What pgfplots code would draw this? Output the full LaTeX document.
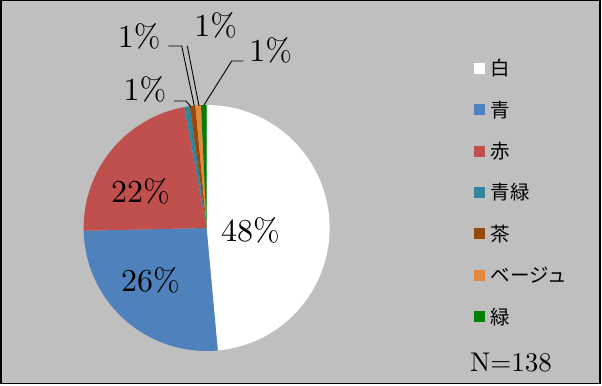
\documentclass[border=0pt]{standalone}
\usepackage{pgfplots}
\pgfplotsset{compat=1.18}
\usepackage{pgfplotstable}
\usepackage{fontspec}
\newfontfamily\jpfont{Noto Sans CJK JP}
\newfontfamily\labfont{lmroman10-regular}[Extension=.otf]
\definecolor{bg}{HTML}{BFBFBF}
\definecolor{cWhite}{HTML}{FFFFFF}
\definecolor{cBlue}{HTML}{4F81BD}
\definecolor{cRed}{HTML}{C0504D}
\definecolor{cTeal}{HTML}{31859C}
\definecolor{cBrown}{HTML}{984807}
\definecolor{cBeige}{HTML}{E3883D}
\definecolor{cGreen}{HTML}{008000}
% counts (N=138), colour of each slice
\pgfplotstableread{
name count col
白 67 cWhite
青 36 cBlue
赤 31 cRed
青緑 1 cTeal
茶 1 cBrown
ベージュ 1 cBeige
緑 1 cGreen
}\piedata
\begin{document}
\begin{tikzpicture}
\begin{axis}[at={(0,0)}, anchor=south west, scale only axis,
  width=602bp, height=386bp, xmin=0, xmax=602, ymin=0, ymax=386,
  hide axis, clip=false]
\pgfplotsextra{
  \fill[white] (axis cs:0,0) rectangle (axis cs:602,386);
  \filldraw[fill=bg, draw=black, line width=1.4bp] (axis cs:0.8,2.2) rectangle (axis cs:599.8,385.2);
  \pgfplotstablegetrowsof{\piedata}\pgfmathtruncatemacro\nrows{\pgfplotsretval-1}
  \xdef\tot{0}
  \foreach \i in {0,...,\nrows}{\pgfplotstablegetelem{\i}{count}\of\piedata
    \pgfmathsetmacro\tmpsum{\tot+\pgfplotsretval}\xdef\tot{\tmpsum}}
  \xdef\angA{90}
  \foreach \i in {0,...,\nrows}{
    \pgfplotstablegetelem{\i}{count}\of\piedata \edef\val{\pgfplotsretval}
    \pgfplotstablegetelem{\i}{col}\of\piedata \edef\slicecol{\pgfplotsretval}
    \pgfplotstablegetelem{\i}{name}\of\piedata \edef\slicename{\pgfplotsretval}
    \pgfmathsetmacro\angB{\angA-360/\tot*\val}
    \fill[\slicecol] (axis cs:206.6,158) -- ++(\angA:123bp) arc[start angle=\angA, end angle=\angB, radius=123bp] -- cycle;
    \xdef\angA{\angB}
    \pgfmathsetmacro\ly{386-68.3-41.4*\i}
    \fill[\slicecol] (axis cs:474,\ly) ++(0bp,-5.5bp) rectangle ++(11bp,11bp);
    \node[anchor=west, inner sep=0pt, font=\jpfont\fontsize{19.5bp}{20bp}\selectfont] at (axis cs:490.5,\ly) {\slicename};
  }
  % data labels
  \begingroup
  \tikzset{lab/.style={anchor=base, inner sep=0pt, font=\labfont\fontsize{32bp}{36bp}\selectfont}}
  \node[lab] at (axis cs:250.5,144.3) {48\%};
  \node[lab] at (axis cs:150.5,94.3) {26\%};
  \node[lab] at (axis cs:140.5,183.7) {22\%};
  \node[lab] at (axis cs:145,285) {1\%};
  \node[lab] at (axis cs:139.2,338) {1\%};
  \node[lab] at (axis cs:215.8,349) {1\%};
  \node[lab] at (axis cs:270.8,324) {1\%};
  \endgroup
  % leader lines
  \draw[line width=0.9bp] (axis cs:174,285) -- (axis cs:186,285) -- (axis cs:190.7,279.5);
  \draw[line width=0.9bp] (axis cs:168.3,340) -- (axis cs:181.7,340) -- (axis cs:194.3,280);
  \draw[line width=0.9bp] (axis cs:187.3,340) -- (axis cs:199,280);
  \draw[line width=0.9bp] (axis cs:243.3,325) -- (axis cs:231.7,325) -- (axis cs:204,281);
  \node[anchor=base, inner sep=0pt, font=\labfont\fontsize{27bp}{30bp}\selectfont] at (axis cs:511,14.3) {N=138};
}
\end{axis}
\end{tikzpicture}
\end{document}
